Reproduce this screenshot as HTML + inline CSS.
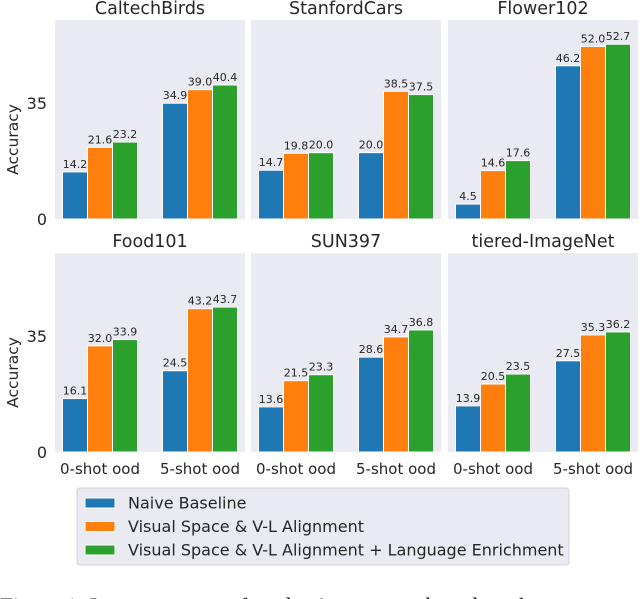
<!DOCTYPE html>
<html><head><meta charset="utf-8"><style>
body{margin:0;background:#fff;width:640px;height:599px;overflow:hidden}
svg{display:block;font-family:"DejaVu Sans","Liberation Sans",sans-serif}
</style></head><body>
<svg id="c" width="640" height="599"></svg>
<script>
const panelTitles=["CaltechBirds","StanfordCars","Flower102","Food101","SUN397","tiered-ImageNet"];
const groups=["0-shot ood","5-shot ood"];
const seriesNames=["Naive Baseline","Visual Space & V-L Alignment","Visual Space & V-L Alignment + Language Enrichment"];
const naive=[[14.2,34.9],[14.7,20.0],[4.5,46.2],[16.1,24.5],[13.6,28.6],[13.9,27.5]];
const visual=[[21.6,39.0],[19.8,38.5],[14.6,52.0],[32.0,43.2],[21.5,34.7],[20.5,35.3]];
const enrich=[[23.2,40.4],[20.0,37.5],[17.6,52.7],[33.9,43.7],[23.3,36.8],[23.5,36.2]];
const yTicks=[0,35];
const colors=["#1f77b4","#ff7f0e","#2ca02c"];
const NS="http://www.w3.org/2000/svg";
const svg=document.getElementById('c');
function mk(t,a,p){const e=document.createElementNS(NS,t);for(const k in a)e.setAttribute(k,a[k]);(p||svg).appendChild(e);return e;}
const px=[55,251,448],pw=190,rows=[[20,219],[253,452]],yMax=60;
const series=[naive,visual,enrich];
for(let p=0;p<6;p++){
 const r=Math.floor(p/3),c=p%3,x0=px[c],top=rows[r][0],bot=rows[r][1];
 const g=mk('g',{});
 
 
 const bg=mk('rect',{x:x0,y:top,width:pw,height:bot-top,fill:'#eaeaf2'},g);
 
 const sx=v=>x0+(v+0.45)*(pw/1.9);
 const sy=v=>bot-v*(bot-top)/yMax;
 const t=mk('text',{x:x0+pw/2,y:top-6,'text-anchor':'middle','font-size':17.5,fill:'#262626'},g);
 t.textContent=panelTitles[p];
 if(c==0){
  yTicks.forEach(v=>{const tt=mk('text',{x:x0-8,y:sy(v)+6,'text-anchor':'end','font-size':16,fill:'#262626'},g);tt.textContent=v;
   });
  const yl=mk('text',{x:0,y:0,transform:`translate(${x0-37},${(top+bot)/2+20}) rotate(-90)`,'text-anchor':'middle','font-size':15.5,fill:'#262626'},g);
  yl.textContent='Accuracy';
 }
 if(r==1){
  groups.forEach((gn,i)=>{const tt=mk('text',{x:sx(i),y:bot+22,'text-anchor':'middle','font-size':15,fill:'#262626'},g);tt.textContent=gn;
   });
 }
 for(let s=0;s<3;s++)for(let i=0;i<2;i++){
  const v=series[s][p][i];
  const bx=sx(i+(s-1)*0.25)-pw/1.9*0.125;
  const b=mk('rect',{x:bx,y:sy(v),width:pw/1.9*0.25,height:bot-sy(v),fill:colors[s],stroke:'#fff','stroke-width':1},g);
  
  const lt=mk('text',{x:bx+pw/1.9*0.125,y:sy(v)-4,'text-anchor':'middle','font-size':11,fill:'#262626'},g);
  lt.textContent=v.toFixed(1);
 }
}
const lg=mk('g',{});

mk('rect',{x:77,y:488,width:492,height:77,rx:3,fill:'#eaeaf2',stroke:'#d0d0d8'},lg);
seriesNames.forEach((n,i)=>{
 const y=503+i*23.5;
 const sw=mk('rect',{x:85,y:y-5,width:30,height:10,fill:colors[i],stroke:'#fff'},lg);
 
 const t=mk('text',{x:128,y:y+5.5,'font-size':16,fill:'#262626'},lg);t.textContent=n;
 
});
const cap=mk('text',{x:0,y:614,'font-size':23,fill:'#111','font-family':'Liberation Serif, serif'});
cap.textContent="Figure 1: Improvements of student's accuracy based on the";

</script>
</body></html>
